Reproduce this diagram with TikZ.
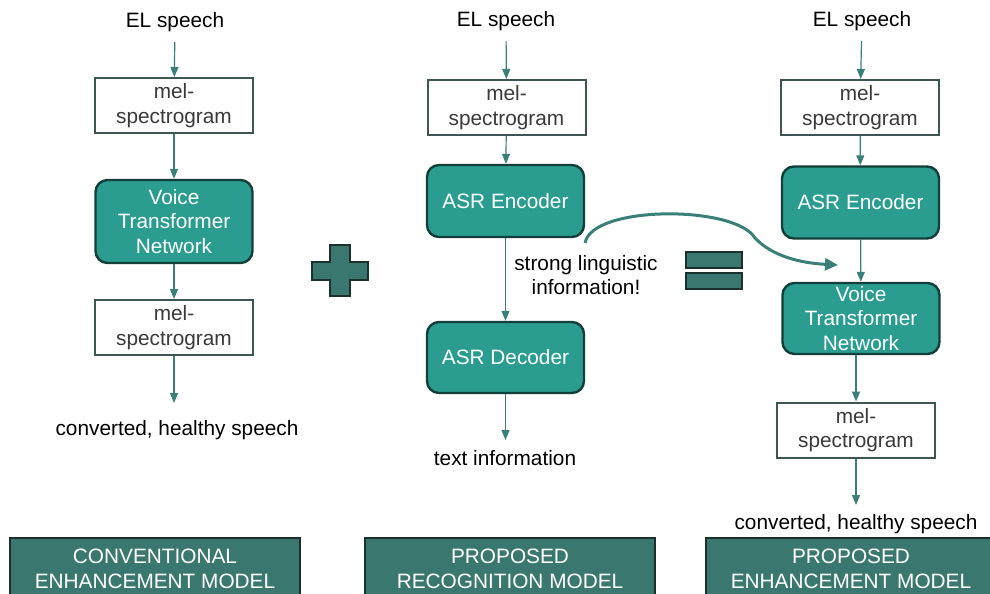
\documentclass[tikz,border=0pt]{standalone}
\usepackage{fontspec}
\setmainfont{Liberation Sans}
\usetikzlibrary{arrows.meta, positioning}
\definecolor{netfill}{HTML}{2A9D90}
\definecolor{netline}{HTML}{123F3A}
\definecolor{bandfill}{HTML}{3A786F}
\definecolor{bandline}{HTML}{1C302D}
\definecolor{melline}{HTML}{3E5553}
\definecolor{flowcol}{HTML}{3A8078}
\definecolor{meltext}{HTML}{3A3A3A}

\begin{document}
\begin{tikzpicture}[x=0.5pt, y=-0.5pt,
    every node/.style={font=\fontsize{10.4}{12.2}\selectfont, align=center},
    melbox/.style={draw=melline, line width=1pt, fill=white, text=meltext,
        minimum width=79pt, minimum height=27.5pt, inner sep=0pt},
    netbox/.style={draw=netline, line width=1.2pt, fill=netfill, text=white,
        rounded corners=6pt, minimum width=78.5pt, inner sep=0pt},
    band/.style={draw=bandline, line width=1.2pt, fill=bandfill, text=white,
        minimum width=145pt, minimum height=31pt, inner sep=0pt},
    lbl/.style={inner sep=5pt},
    flow/.style={draw=flowcol, line width=0.6pt, -{Triangle[width=4pt,length=5pt]}},
    sym/.style={draw=bandline, line width=0.8pt, fill=bandfill}]
    \useasboundingbox (0,0) rectangle (990,594);
    \clip (0,0) rectangle (990,594);

    % conventional enhancement model
    \node[lbl] (el1) at (175,22) {EL speech};
    \node[melbox] (mel1) at (174,105.5) {mel-\\spectrogram};
    \node[netbox, minimum height=41.5pt] (vtn1) at (174,221.5) {Voice\\Transformer\\Network};
    \node[melbox] (mel2) at (174,327.5) {mel-\\spectrogram};
    \coordinate (out1) at (174,403);
    \node (conv1) at (177,430) {converted, healthy speech};
    \node[band] (band1) at (155,569) {CONVENTIONAL\\ENHANCEMENT MODEL};
    \draw[flow] (el1) -- (mel1);
    \draw[flow] (mel1) -- (vtn1);
    \draw[flow] (vtn1) -- (mel2);
    \draw[flow] (mel2) -- (out1);

    % proposed recognition model
    \node[lbl] (el2) at (506,21) {EL speech};
    \node[melbox] (mel3) at (506.5,107.5) {mel-\\spectrogram};
    \node[netbox, minimum height=36pt] (enc1) at (505.5,201) {ASR Encoder};
    \node[netbox, minimum height=35.5pt] (dec1) at (505.5,357.5) {ASR Decoder};
    \coordinate (out2) at (505.5,440);
    \node (txt1) at (505,458) {text information};
    \node (info) at (586,275) {strong linguistic\\information!};
    \node[band] (band2) at (510,569) {PROPOSED\\RECOGNITION MODEL};
    \draw[flow] (el2) -- (mel3);
    \draw[flow] (mel3) -- (enc1);
    \draw[flow] (enc1) -- (dec1);
    \draw[flow] (dec1) -- (out2);

    % proposed enhancement model
    \node[lbl] (el3) at (862,21) {EL speech};
    \node[melbox] (mel4) at (860,107.5) {mel-\\spectrogram};
    \node[netbox, minimum height=36pt] (enc2) at (860.5,202.5) {ASR Encoder};
    \node[netbox, minimum height=35.5pt] (vtn2) at (861,318.5) {Voice\\Transformer\\Network};
    \node[melbox] (mel5) at (856,430) {mel-\\spectrogram};
    \coordinate (out3) at (856,505);
    \node (conv2) at (856,524) {converted, healthy speech};
    \node[band] (band3) at (851,569) {PROPOSED\\ENHANCEMENT MODEL};
    \draw[flow] (el3) -- (mel4);
    \draw[flow] (mel4) -- (enc2);
    \draw[flow] (enc2) -- (vtn2);
    \draw[flow] (mel5.north |- vtn2.south) -- (mel5);
    \draw[flow] (mel5) -- (out3);

    % plus and equals
    \draw[sym] (312,262) -- (330,262) -- (330,245) -- (350,245) -- (350,262)
        -- (368,262) -- (368,280) -- (350,280) -- (350,296) -- (330,296)
        -- (330,280) -- (312,280) -- cycle;
    \draw[sym] (686,252) rectangle (742,268);
    \draw[sym] (686,273) rectangle (742,289);

    % linguistic information into the VTN
    \coordinate (curvA) at (585,243);
    \coordinate (curvB) at (755,238);
    \coordinate (curvC) at (838,265);
    \draw[flowcol, line width=1.5pt, -{Triangle[width=6pt,length=6.5pt]}]
        (curvA) .. controls (592,205) and (735,205) .. (curvB)
        .. controls (772,256) and (800,263) .. (curvC);
\end{tikzpicture}
\end{document}
